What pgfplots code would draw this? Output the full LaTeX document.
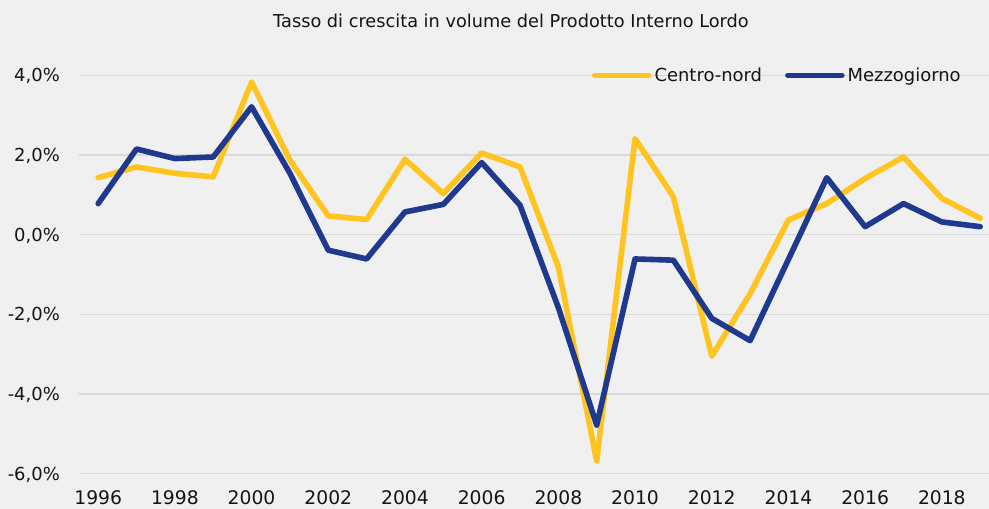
\documentclass[border=0pt]{standalone}
\usepackage{fontspec}
\setmainfont{DejaVu Sans}
\usepackage{pgfplots}
\pgfplotsset{compat=1.18}

\definecolor{bgc}{HTML}{F0F0F0}
\definecolor{gridc}{HTML}{D9D9D9}
\definecolor{cnord}{HTML}{FFC41F}
\definecolor{mezz}{HTML}{1F398E}
\definecolor{txt}{HTML}{141414}

\begin{document}
\begin{tikzpicture}
\fill[bgc] (0,0) rectangle (989bp,509bp);
\useasboundingbox (0,0) rectangle (989bp,509bp);
\begin{axis}[
    at={(79bp,35.3bp)}, anchor=south west,
    scale only axis,
    width=910bp, height=398.4bp,
    xmin=1995.5, xmax=2019.23,
    ymin=-6, ymax=4,
    xtick={1996,1998,...,2018},
    xticklabels={1996,1998,2000,2002,2004,2006,2008,2010,2012,2014,2016,2018},
    ytick={-6,-4,-2,0,2,4},
    yticklabels={-6{,}0\%,-4{,}0\%,-2{,}0\%,0{,}0\%,2{,}0\%,4{,}0\%},
    axis line style={draw=none},
    tick style={draw=none},
    major tick length=0pt,
    ymajorgrids,
    grid style={gridc, line width=1.4bp},
    xticklabel style={anchor=north, inner sep=0pt, yshift=-17bp,
        font=\fontsize{18.8}{21}\selectfont, text=txt},
    yticklabel style={anchor=base east, inner sep=0pt, xshift=-19bp, yshift=-6.5bp,
        font=\fontsize{18}{21}\selectfont, text=txt},
    legend columns=2,
    legend style={at={(0.9724,1.0)}, anchor=east, draw=none, fill=none,
        inner sep=0pt, font=\fontsize{18}{21}\selectfont, text=txt,
        nodes={inner xsep=3bp},
        /tikz/every even column/.append style={column sep=20bp}},
    legend cell align=left,
    legend image code/.code={\draw[#1, line cap=round] (0bp,0bp) -- (54bp,0bp);},
    every axis plot/.append style={line width=5.6bp, line join=round, line cap=round},
]
\addplot[cnord] coordinates {
    (1996,1.43) (1997,1.70) (1998,1.54) (1999,1.45) (2000,3.83)
    (2001,1.87) (2002,0.47) (2003,0.38) (2004,1.89) (2005,1.03)
    (2006,2.05) (2007,1.70) (2008,-0.81) (2009,-5.68) (2010,2.41)
    (2011,0.95) (2012,-3.05) (2013,-1.48) (2014,0.37) (2015,0.78)
    (2016,1.41) (2017,1.95) (2018,0.91) (2019,0.41)
};
\addlegendentry{Centro-nord}
\addplot[mezz] coordinates {
    (1996,0.78) (1997,2.15) (1998,1.91) (1999,1.95) (2000,3.21)
    (2001,1.54) (2002,-0.39) (2003,-0.61) (2004,0.57) (2005,0.76)
    (2006,1.81) (2007,0.74) (2008,-1.83) (2009,-4.78) (2010,-0.61)
    (2011,-0.64) (2012,-2.10) (2013,-2.66) (2014,-0.62) (2015,1.43)
    (2016,0.20) (2017,0.78) (2018,0.32) (2019,0.20)
};
\addlegendentry{Mezzogiorno}
\end{axis}
\node[anchor=base, inner sep=0pt, text=txt, font=\fontsize{17.8}{20}\selectfont]
    at (511bp,481.7bp) {Tasso di crescita in volume del Prodotto Interno Lordo};
\end{tikzpicture}
\end{document}
